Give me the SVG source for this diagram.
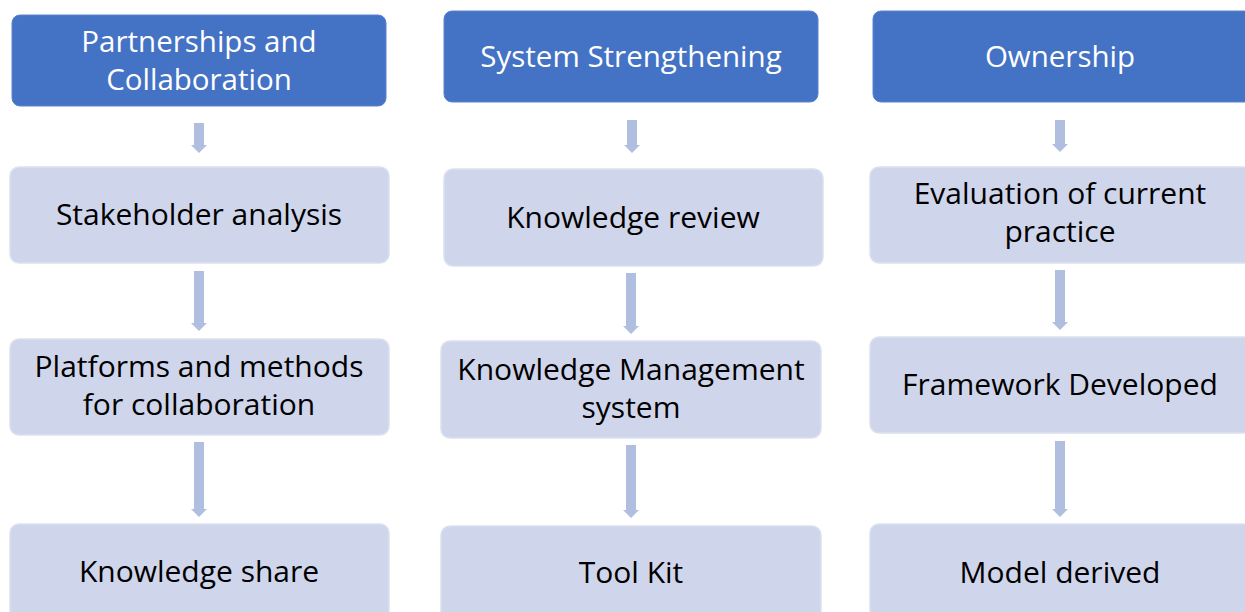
<svg xmlns="http://www.w3.org/2000/svg" width="1245" height="612" viewBox="0 0 1245 612">
<style>
.hdr{fill:#4472C4;stroke:#5B84CC;stroke-width:1}
.box{fill:#CFD5EA;stroke:#DCE1F0;stroke-width:1.5}
.ht{font-family:"Open Sans","Noto Sans",sans-serif;font-size:29.5px;fill:#FFFFFF;text-anchor:middle}
.bt{font-family:"Open Sans","Noto Sans",sans-serif;font-size:30px;fill:#000000;text-anchor:middle}
.arr{fill:#B0BEE0}
</style>
<rect width="1245" height="612" fill="#FFFFFF"/>
<g id="connectors">
<path class="arr" d="M194,123 H204 V145 H207 L199,153 L191,145 H194 Z"/>
<path class="arr" d="M194,271 H204 V323 H207 L199,331 L191,323 H194 Z"/>
<path class="arr" d="M194,442 H204 V509 H207 L199,517 L191,509 H194 Z"/>
<path class="arr" d="M627,120 H637 V145 H640 L632,153 L624,145 H627 Z"/>
<path class="arr" d="M626,273 H636 V326 H639 L631,334 L623,326 H626 Z"/>
<path class="arr" d="M626,445 H636 V510 H639 L631,518 L623,510 H626 Z"/>
<path class="arr" d="M1055,120 H1065 V144 H1068 L1060,152 L1052,144 H1055 Z"/>
<path class="arr" d="M1055,270 H1065 V322 H1068 L1060,330 L1052,322 H1055 Z"/>
<path class="arr" d="M1055,441 H1065 V509 H1068 L1060,517 L1052,509 H1055 Z"/>
</g>
<g id="h1"><rect class="hdr" x="12" y="15" width="374" height="91" rx="8"/><text class="ht" x="199" y="52">Partnerships and</text><text class="ht" x="199" y="90">Collaboration</text></g>
<g id="h2"><rect class="hdr" x="444" y="11" width="374" height="91" rx="8"/><text class="ht" x="631" y="67">System Strengthening</text></g>
<g id="h3"><rect class="hdr" x="873" y="11" width="380" height="91" rx="8"/><text class="ht" x="1060" y="67">Ownership</text></g>
<g id="n1"><rect class="box" x="10" y="167" width="379" height="96" rx="9"/><text class="bt" x="199" y="225">Stakeholder analysis</text></g>
<g id="n2"><rect class="box" x="10" y="339" width="379" height="96" rx="9"/><text class="bt" x="199" y="377">Platforms and methods</text><text class="bt" x="199" y="415">for collaboration</text></g>
<g id="n3"><rect class="box" x="10" y="524" width="379" height="100" rx="9"/><text class="bt" x="199" y="582">Knowledge share</text></g>
<g id="n4"><rect class="box" x="444" y="169" width="379" height="97" rx="9"/><text class="bt" x="633" y="228">Knowledge review</text></g>
<g id="n5"><rect class="box" x="441" y="341" width="380" height="97" rx="9"/><text class="bt" x="631" y="380">Knowledge Management</text><text class="bt" x="631" y="418">system</text></g>
<g id="n6"><rect class="box" x="441" y="526" width="380" height="100" rx="9"/><text class="bt" x="631" y="583">Tool Kit</text></g>
<g id="n7"><rect class="box" x="870" y="167" width="385" height="96" rx="9"/><text class="bt" x="1060" y="204">Evaluation of current</text><text class="bt" x="1060" y="242">practice</text></g>
<g id="n8"><rect class="box" x="870" y="337" width="385" height="96" rx="9"/><text class="bt" x="1060" y="395">Framework Developed</text></g>
<g id="n9"><rect class="box" x="870" y="524" width="385" height="100" rx="9"/><text class="bt" x="1060" y="583">Model derived</text></g>
</svg>
